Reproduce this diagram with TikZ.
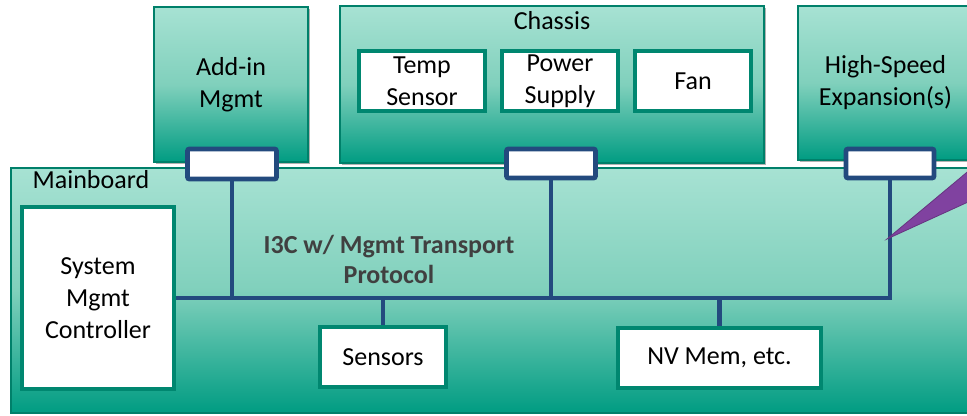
\documentclass[tikz,border=0pt]{standalone}
\usepackage{fontspec}
\setmainfont{Carlito}
\usetikzlibrary{shadows}
\definecolor{mintL}{RGB}{167,226,211}
\definecolor{mintM}{RGB}{128,208,188}
\definecolor{tealD}{RGB}{0,156,130}
\definecolor{tealB}{RGB}{0,128,106}
\definecolor{tealW}{RGB}{0,135,112}
\definecolor{navy}{RGB}{35,74,126}
\definecolor{lblgray}{RGB}{64,64,64}
\definecolor{callout}{RGB}{128,66,160}
\pgfdeclarelayer{bg}
\pgfdeclarelayer{mid}
\pgfsetlayers{bg,mid,main}
\begin{document}
\begin{tikzpicture}[x=0.75pt,y=-0.75pt,
  every node/.style={font=\fontsize{19.5}{24}\selectfont, text=black},
  wh/.style 2 args={minimum width=#1*0.75pt, minimum height=#2*0.75pt},
  greenbox/.style={draw=tealB, line width=1.2pt, top color=mintL, bottom color=tealD, middle color=mintM, inner sep=0pt, align=center},
  topbox/.style={greenbox, drop shadow={shadow xshift=1.5pt, shadow yshift=-1.5pt, opacity=0.3, fill=black}},
  whitebox/.style={draw=tealW, line width=3.7pt, fill=white, inner sep=0pt, align=center},
  port/.style={draw=navy, line width=3.6pt, fill=white, rounded corners=1.5pt, inner sep=0pt},
  bus/.style={draw=navy, line width=3.5pt},
]
\useasboundingbox (0,0) rectangle (967,415);
\clip (0,0) rectangle (967,415);

\begin{pgfonlayer}{bg}
\node[greenbox, wh={979}{245}, line width=1pt] (mainboard) at (500.5,290.5) {};
\end{pgfonlayer}
\node[anchor=base west] (mblbl) at (28,188) {Mainboard};

\node[topbox, wh={154}{155}] (addin) at (231,84.5) {Add-in\\Mgmt};
\node[topbox, wh={424}{157}] (chassis) at (552,84.5) {};
\node[anchor=base] (chlbl) at (552,29) {Chassis};
\node[whitebox, wh={126}{60}] (temp) at (422,81) {Temp\\Sensor};
\node[whitebox, wh={116}{60}] (psu) at (560,81) {Power\\Supply};
\node[whitebox, wh={116}{60}] (fan) at (693,81) {Fan};
\node[topbox, wh={175}{154}] (hs) at (885.5,83) {High-Speed\\Expansion(s)};

\node[whitebox, wh={152}{182}] (smc) at (98,298) {System\\Mgmt\\Controller};
\node[whitebox, wh={126}{60}] (sensors) at (383,357) {Sensors};
\node[whitebox, wh={203}{60}] (nvmem) at (719.5,358) {NV Mem, etc.};

\node[font=\fontsize{19.5}{22.5}\selectfont\bfseries, text=lblgray, align=center] (i3c) at (389,259) {I3C w/ Mgmt Transport\\Protocol};

\node[port, wh={89}{30}] (p1) at (232,164) {};
\node[port, wh={89}{29}] (p2) at (551,163.5) {};
\node[port, wh={88}{29}] (p3) at (890,163.5) {};

\begin{pgfonlayer}{mid}
\draw[bus] (smc.east) -| (p3.south);
\draw[bus] (p1.south) -- (p1.south |- smc.east);
\draw[bus] (p2.south) -- (p2.south |- smc.east);
\draw[bus] (sensors.north) -- (sensors.north |- smc.east);
\draw[bus] (nvmem.north) -- (nvmem.north |- smc.east);
\end{pgfonlayer}

\coordinate (tip) at (887,239);
\filldraw[fill=callout, draw=callout!80!black, line width=0.6pt] (tip) -- (990,153) -- (990,192) -- cycle;
\end{tikzpicture}
\end{document}
